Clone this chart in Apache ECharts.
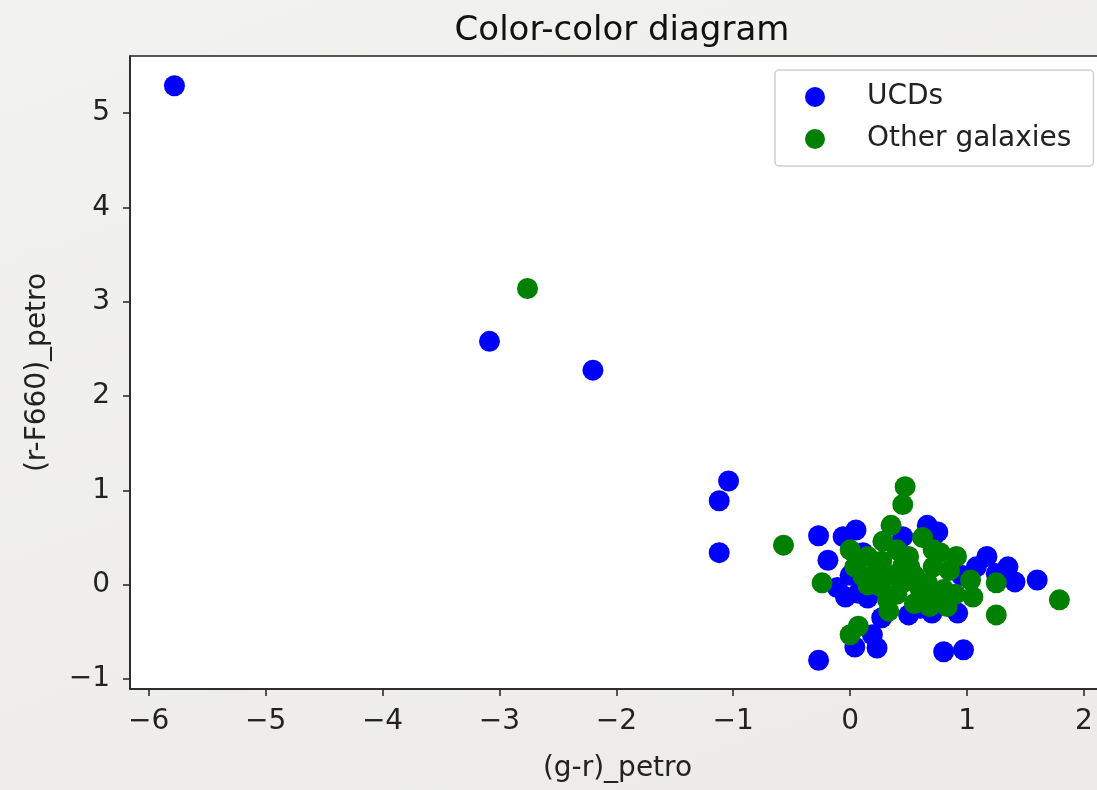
<!DOCTYPE html>
<html>
<head>
<meta charset="utf-8">
<script src="https://cdn.jsdelivr.net/npm/echarts@6/dist/echarts.min.js"></script>
<style>
html,body{margin:0;padding:0;overflow:hidden;width:1097px;height:790px;background:#eeedeb;}
#c{width:1112px;height:790px;background:linear-gradient(160deg,#f2f2f0 0%,#ecebe8 100%);}
</style>
</head>
<body>
<div id="c"></div>
<script>
const title = "Color-color diagram";
const xName = "(g-r)_petro";
const yName = "(r-F660)_petro";
const seriesNames = ["UCDs", "Other galaxies"];
const xTicks = [-6, -5, -4, -3, -2, -1, 0, 1, 2];
const yTicks = [-1, 0, 1, 2, 3, 4, 5];

const ucdX = [-5.78, -3.085, -2.20, -1.04, -1.12, -1.12, -0.27, -0.27, -0.06, 0.05, -0.19, 0.11, -0.04, 0.07, 0.27, 0.50, 0.66, 0.71, 0.45, 0.04, 0.23, 0.19, 0.75, 1.17, 1.35, 1.41, 1.60, 1.08, 0.92, 0.80, 0.97, -0.11, 0.15, 0.25, 0.95, 1.25, 0.60, 0.70, 0.40, 0.00];
const ucdY = [5.29, 2.58, 2.275, 1.10, 0.89, 0.34, -0.80, 0.52, 0.51, 0.58, 0.26, 0.34, -0.13, -0.09, -0.35, -0.32, 0.63, 0.51, 0.51, -0.66, -0.67, -0.53, 0.56, 0.30, 0.19, 0.03, 0.05, 0.19, -0.30, -0.71, -0.69, -0.03, -0.14, 0.00, 0.10, 0.12, -0.25, -0.30, 0.40, 0.10];

const otherX = [-2.76, -0.57, 1.79, 0.47, 0.45, 0.35, 0.62, 0.00, -0.24, 0.28, 0.40, 0.27, 0.04, 0.11, 0.26, 0.32, 0.33, 0.51, 0.45, 0.66, 0.71, 0.71, 0.68, 0.07, 0.00, 0.77, 0.91, 1.03, 1.05, 1.25, 1.25, 0.80, 0.83, 0.71, 0.15, 0.20, 0.35, 0.50, 0.55, 0.60, 0.40, 0.15, 0.55, 0.85, 0.45, 0.90];
const otherY = [3.14, 0.42, -0.16, 1.04, 0.85, 0.63, 0.50, 0.37, 0.02, 0.46, 0.37, 0.25, 0.19, 0.09, -0.02, -0.16, -0.28, 0.19, 0.02, 0.02, 0.19, 0.37, -0.23, -0.44, -0.53, 0.34, 0.30, 0.05, -0.13, 0.02, -0.32, -0.05, -0.23, -0.10, 0.30, 0.10, 0.10, 0.30, 0.10, -0.05, -0.10, 0.00, -0.20, 0.15, 0.20, -0.10];

const zip = (a, b) => a.map((v, i) => [v, b[i]]);
const fmt = v => String(v).replace('-', '\u2212');
const FONT = 'DejaVu Sans';

const chart = echarts.init(document.getElementById('c'), null, {renderer: 'canvas'});
chart.setOption({
  animation: false,
  backgroundColor: 'transparent',
  title: {
    text: title, left: 617, top: 9, textAlign: 'center',
    textStyle: {fontFamily: FONT, fontSize: 34, fontWeight: 'normal', color: '#111'}
  },
  legend: {
    orient: 'vertical', left: 775, top: 70,
    data: seriesNames,
    icon: 'circle', itemWidth: 20, itemHeight: 20, itemGap: 14,
    padding: [13, 22, 13, 30],
    backgroundColor: '#fff', borderColor: '#d0d0d0', borderWidth: 1.5, borderRadius: 4,
    textStyle: {fontFamily: FONT, fontSize: 28, color: '#222', padding: [0, 0, 0, 37]},
    selectedMode: false
  },
  grid: {
    left: 130, width: 975, top: 56, bottom: 101,
    show: true, backgroundColor: '#fff', borderColor: '#222', borderWidth: 1.5
  },
  xAxis: {
    type: 'value', min: -6.16, max: 2.18,
    name: xName, nameLocation: 'middle', nameGap: 66,
    nameTextStyle: {fontFamily: FONT, fontSize: 28, color: '#222'},
    axisLine: {show: true, onZero: false, lineStyle: {color: '#222', width: 1.5}},
    axisTick: {show: true, length: 7, customValues: xTicks, lineStyle: {color: '#222', width: 1.5}},
    axisLabel: {customValues: xTicks, formatter: fmt, margin: 19, fontFamily: FONT, fontSize: 28, color: '#222'},
    splitLine: {show: false}
  },
  yAxis: {
    type: 'value', min: -1.105, max: 5.605,
    name: yName, nameLocation: 'middle', nameGap: 78, nameRotate: 90,
    nameTextStyle: {fontFamily: FONT, fontSize: 28, color: '#222'},
    axisLine: {show: true, onZero: false, lineStyle: {color: '#222', width: 1.5}},
    axisTick: {show: true, length: 7, customValues: yTicks, lineStyle: {color: '#222', width: 1.5}},
    axisLabel: {customValues: yTicks, formatter: fmt, margin: 20, fontFamily: FONT, fontSize: 28, color: '#222'},
    splitLine: {show: false}
  },
  series: [
    {name: seriesNames[0], type: 'scatter', data: zip(ucdX, ucdY), symbol: 'circle', symbolSize: 21,
     itemStyle: {color: '#0000ff', opacity: 1}},
    {name: seriesNames[1], type: 'scatter', data: zip(otherX, otherY), symbol: 'circle', symbolSize: 21,
     itemStyle: {color: '#008000', opacity: 1}}
  ]
});
</script>
</body>
</html>
